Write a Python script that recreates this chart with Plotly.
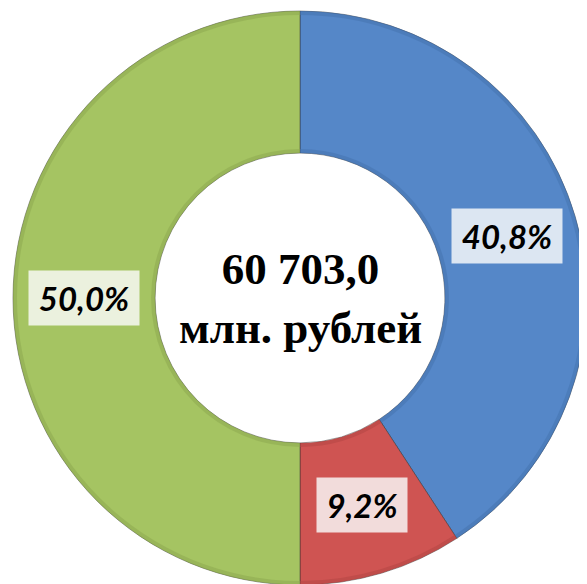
import numpy as np
import plotly.graph_objects as go

# Data
categories = ["Категория 1", "Категория 2", "Категория 3"]
shares = [40.8, 9.2, 50.0]
share_labels = ["40,8%", "9,2%", "50,0%"]
total_text = "60 703,0"
unit_text = "млн. рублей"

colors = ["#5587C8", "#CF5452", "#A5C462"]
rim_colors = ["#4674B0", "#B44644", "#8EAA50"]
label_bg = ["#DCE6F2", "#F2DCDB", "#EBF1DE"]
label_box_w = [110, 90, 110]
label_box_h = 54

# page body has an 8px margin: figure is placed at (8, 8) in the window
OFF = 8
W, H = 587, 584
# Pie geometry (figure pixels)
cx, cy = 300.0 - OFF, 298.0 - OFF
R_out = 287.0
hole = 0.505
R_in = R_out * hole
rim = 4.0


def domain(r):
    return dict(x=[max(0.0, (cx - r) / W), min(1.0, (cx + r) / W)],
                y=[max(0.0, 1 - (cy + r) / H), min(1.0, 1 - (cy - r) / H)])


fig = go.Figure()
common = dict(labels=categories, values=shares, sort=False, direction="clockwise",
              rotation=0, textinfo="none", showlegend=False)
fig.add_trace(go.Pie(
    hole=hole,
    marker=dict(colors=colors, line=dict(color="rgba(40,40,40,0.45)", width=1)),
    hoverinfo="label+percent",
    domain=domain(R_out),
    **common,
))
# outer rim shading
fig.add_trace(go.Pie(
    hole=(R_out - rim) / R_out,
    marker=dict(colors=rim_colors, line=dict(width=0)),
    opacity=0.55, hoverinfo="skip",
    domain=domain(R_out),
    **common,
))
# inner rim shading
fig.add_trace(go.Pie(
    hole=R_in / (R_in + rim),
    marker=dict(colors=rim_colors, line=dict(width=0)),
    opacity=0.55, hoverinfo="skip",
    domain=domain(R_in + rim),
    **common,
))

# Label positions computed from data: middle of each slice, middle of the ring
vals = np.array(shares, dtype=float)
cum = np.cumsum(vals) - vals / 2
ang = cum / vals.sum() * 2 * np.pi  # clockwise from 12 o'clock
r_mid = (R_out + R_in) / 2
annotations = []
for lab, a, bg, bw in zip(share_labels, ang, label_bg, label_box_w):
    px = cx + r_mid * np.sin(a)
    py = cy - r_mid * np.cos(a)
    annotations.append(dict(
        x=px / W, y=1 - py / H, xref="paper", yref="paper",
        text=f"<b><i>{lab}</i></b>", showarrow=False,
        font=dict(family="Lato", size=33, color="black"),
        bgcolor=bg, borderpad=0, width=bw, height=label_box_h,
        xanchor="center", yanchor="middle",
    ))

annotations.append(dict(
    x=cx / W, y=1 - cy / H, xref="paper", yref="paper",
    text=f"<b>{total_text}</b><br><b>{unit_text}</b>", showarrow=False,
    font=dict(family="Liberation Serif", size=45, color="black"),
    xanchor="center", yanchor="middle", align="center",
))

fig.update_layout(
    width=W, height=H,
    margin=dict(l=0, r=0, t=0, b=0),
    paper_bgcolor="white",
    plot_bgcolor="white",
    annotations=annotations,
)

fig.write_html("out.html")
